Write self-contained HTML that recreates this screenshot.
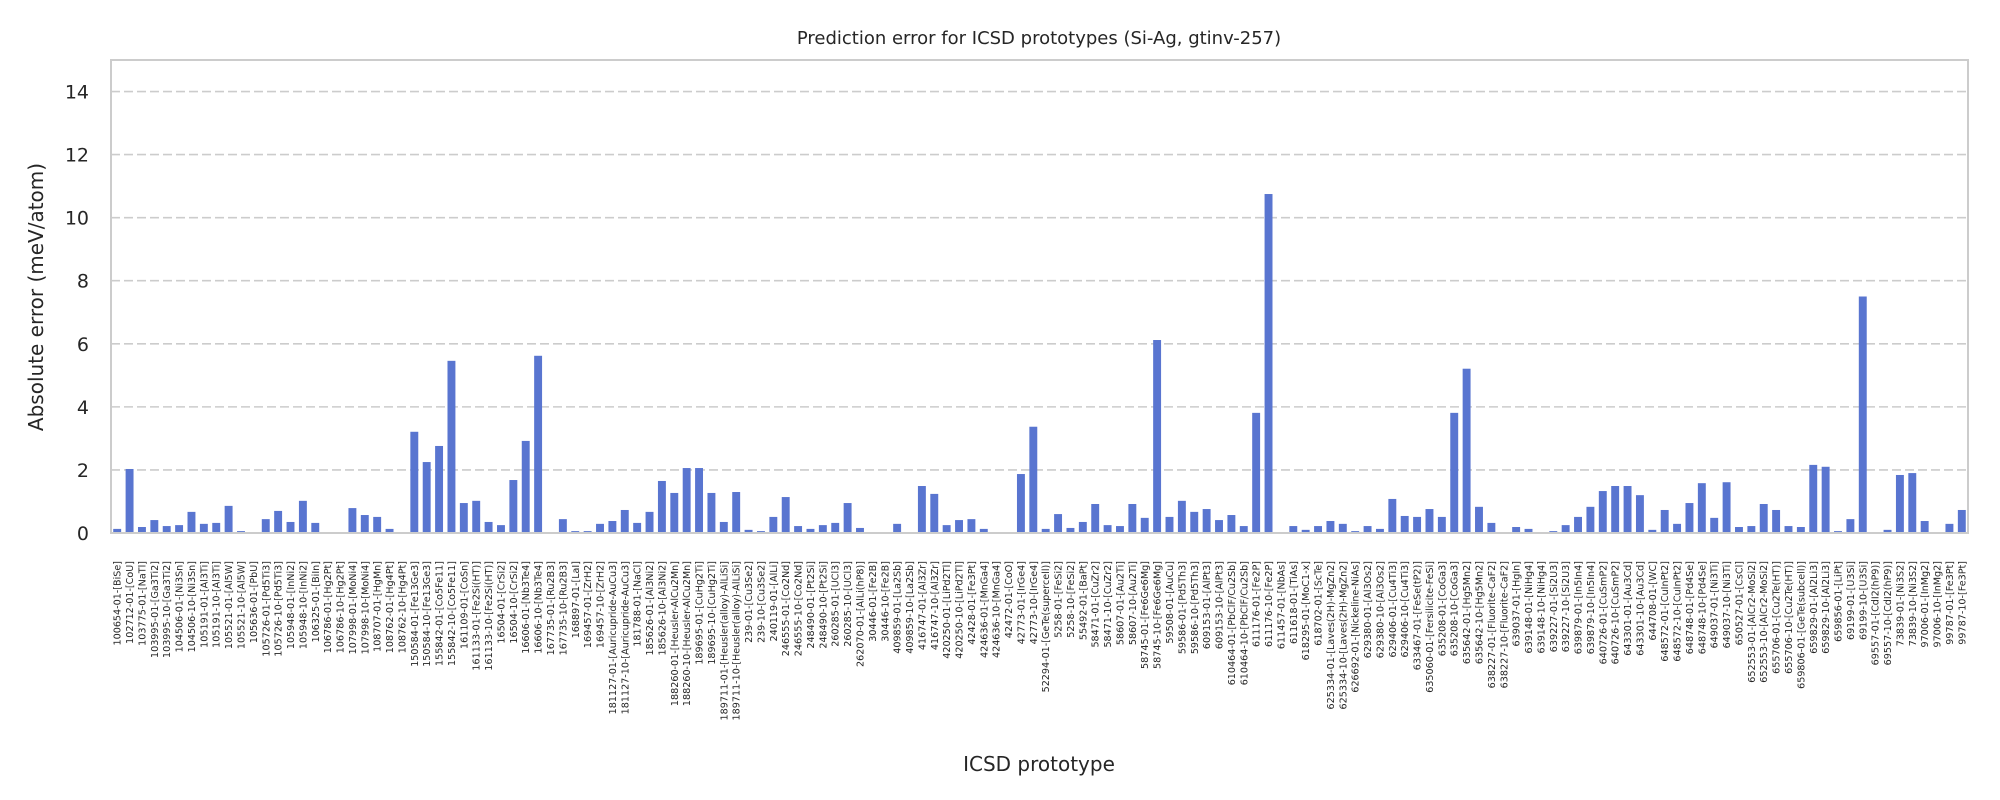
<!DOCTYPE html>
<html><head><meta charset="utf-8">
<style>
html,body{margin:0;padding:0;background:#fff;}
svg{display:block;font-family:"DejaVu Sans","Liberation Sans",sans-serif;}
</style></head>
<body>
<svg id="chart" width="2000" height="800" viewBox="0 0 2000 800">
<rect x="0" y="0" width="2000" height="800" fill="#fff"/>
<text x="1039" y="44" text-anchor="middle" font-size="18" fill="#262626">Prediction error for ICSD prototypes (Si-Ag, gtinv-257)</text>
<g id="grid"></g>
<g id="bars"></g>
<rect x="111" y="60" width="1857" height="473" fill="none" stroke="#cccccc" stroke-width="2"/>
<g id="yticks"></g>
<g id="xticks"></g>
<text transform="translate(43,297) rotate(-90)" text-anchor="middle" font-size="20" fill="#262626">Absolute error (meV/atom)</text>
<text x="1039" y="771" text-anchor="middle" font-size="20" fill="#262626">ICSD prototype</text>
</svg>
<script>
const categories = ["100654-01-[BiSe]","102712-01-[CoU]","103775-01-[NaTl]","103995-01-[Ga3Ti2]","103995-10-[Ga3Ti2]","104506-01-[Ni3Sn]","104506-10-[Ni3Sn]","105191-01-[Al3Ti]","105191-10-[Al3Ti]","105521-01-[Al5W]","105521-10-[Al5W]","105636-01-[PbU]","105726-01-[Pd5Ti3]","105726-10-[Pd5Ti3]","105948-01-[InNi2]","105948-10-[InNi2]","106325-01-[BiIn]","106786-01-[Hg2Pt]","106786-10-[Hg2Pt]","107998-01-[MoNi4]","107998-10-[MoNi4]","108707-01-[HgMn]","108762-01-[Hg4Pt]","108762-10-[Hg4Pt]","150584-01-[Fe13Ge3]","150584-10-[Fe13Ge3]","155842-01-[Co5Fe11]","155842-10-[Co5Fe11]","161109-01-[CoSn]","161133-01-[Fe2Si(HT)]","161133-10-[Fe2Si(HT)]","16504-01-[CrSi2]","16504-10-[CrSi2]","16606-01-[Nb3Te4]","16606-10-[Nb3Te4]","167735-01-[Ru2B3]","167735-10-[Ru2B3]","168897-01-[LaI]","169457-01-[ZrH2]","169457-10-[ZrH2]","181127-01-[Auricupride-AuCu3]","181127-10-[Auricupride-AuCu3]","181788-01-[NaCl]","185626-01-[Al3Ni2]","185626-10-[Al3Ni2]","188260-01-[Heusler-AlCu2Mn]","188260-10-[Heusler-AlCu2Mn]","189695-01-[CuHg2Ti]","189695-10-[CuHg2Ti]","189711-01-[Heusler(alloy)-AlLiSi]","189711-10-[Heusler(alloy)-AlLiSi]","239-01-[Cu3Se2]","239-10-[Cu3Se2]","240119-01-[AlLi]","246555-01-[Co2Nd]","246555-10-[Co2Nd]","248490-01-[Pt2Si]","248490-10-[Pt2Si]","260285-01-[UCl3]","260285-10-[UCl3]","262070-01-[AlLi(hP8)]","30446-01-[Fe2B]","30446-10-[Fe2B]","409859-01-[La2Sb]","409859-10-[La2Sb]","416747-01-[Al3Zr]","416747-10-[Al3Zr]","420250-01-[LiPd2Tl]","420250-10-[LiPd2Tl]","42428-01-[Fe3Pt]","424636-01-[MnGa4]","424636-10-[MnGa4]","42472-01-[CoO]","42773-01-[IrGe4]","42773-10-[IrGe4]","52294-01-[GeTe(supercell)]","5258-01-[FeSi2]","5258-10-[FeSi2]","55492-01-[BaPt]","58471-01-[CuZr2]","58471-10-[CuZr2]","58607-01-[Au2Ti]","58607-10-[Au2Ti]","58745-01-[Fe6Ge6Mg]","58745-10-[Fe6Ge6Mg]","59508-01-[AuCu]","59586-01-[Pd5Th3]","59586-10-[Pd5Th3]","609153-01-[AlPt3]","609153-10-[AlPt3]","610464-01-[PbClF/Cu2Sb]","610464-10-[PbClF/Cu2Sb]","611176-01-[Fe2P]","611176-10-[Fe2P]","611457-01-[NbAs]","611618-01-[TiAs]","618295-01-[MoC1-x]","618702-01-[ScTe]","625334-01-[Laves(2H)-MgZn2]","625334-10-[Laves(2H)-MgZn2]","626692-01-[Nickeline-NiAs]","629380-01-[Al3Os2]","629380-10-[Al3Os2]","629406-01-[Cu4Ti3]","629406-10-[Cu4Ti3]","633467-01-[FeSe(tP2)]","635060-01-[Fersilicite-FeSi]","635208-01-[CoGa3]","635208-10-[CoGa3]","635642-01-[Hg5Mn2]","635642-10-[Hg5Mn2]","638227-01-[Fluorite-CaF2]","638227-10-[Fluorite-CaF2]","639037-01-[HgIn]","639148-01-[NiHg4]","639148-10-[NiHg4]","639227-01-[Si2U3]","639227-10-[Si2U3]","639879-01-[In5In4]","639879-10-[In5In4]","640726-01-[CuSmP2]","640726-10-[CuSmP2]","643301-01-[Au3Cd]","643301-10-[Au3Cd]","644708-01-[WC]","648572-01-[CuInPt2]","648572-10-[CuInPt2]","648748-01-[Pd4Se]","648748-10-[Pd4Se]","649037-01-[Ni3Ti]","649037-10-[Ni3Ti]","650527-01-[CsCl]","652553-01-[AlCr2-MoSi2]","652553-10-[AlCr2-MoSi2]","655706-01-[Cu2Te(HT)]","655706-10-[Cu2Te(HT)]","659806-01-[GeTe(subcell)]","659829-01-[Al2Li3]","659829-10-[Al2Li3]","659856-01-[LiPt]","69199-01-[U3Si]","69199-10-[U3Si]","69557-01-[CdI2(hP9)]","69557-10-[CdI2(hP9)]","73839-01-[Ni3S2]","73839-10-[Ni3S2]","97006-01-[InMg2]","97006-10-[InMg2]","99787-01-[Fe3Pt]","99787-10-[Fe3Pt]"];
const errors = [0.13,2.03,0.19,0.41,0.22,0.25,0.67,0.29,0.32,0.86,0.06,0,0.44,0.70,0.35,1.02,0.32,0.03,0,0.79,0.57,0.51,0.13,0,3.21,2.25,2.76,5.46,0.95,1.02,0.35,0.25,1.68,2.92,5.62,0,0.44,0.06,
0.06,0.29,0.38,0.73,0.32,0.67,1.65,1.27,2.06,2.06,1.27,0.35,1.30,0.10,0.06,0.51,1.14,0.22,0.13,0.25,0.32,0.95,0.16,0.03,0.03,0.29,0,1.49,1.24,0.25,0.41,0.44,0.13,0,0,1.87,3.37,0.13,0.60,
0.16,0.35,0.92,0.25,0.22,0.92,0.48,6.12,0.51,1.02,0.67,0.76,0.41,0.57,0.22,3.81,10.75,0,0.22,0.10,0.22,0.38,0.29,0.06,0.22,0.13,1.08,0.54,0.51,0.76,0.51,3.81,5.21,0.83,0.32,0,0.19,0.13,
0,0.06,0.25,0.51,0.83,1.33,1.49,1.49,1.20,0.10,0.73,0.29,0.95,1.58,0.48,1.61,0.19,0.22,0.92,0.73,0.22,0.19,2.16,2.10,0.06,0.44,7.5,0,0.10,1.84,1.90,0.38,0,0.29,0.73];
const yTicks = [0,2,4,6,8,10,12,14];
const yMin = 0, yMax = 15;

const NS = "http://www.w3.org/2000/svg";
const X0 = 111, X1 = 1968, Y0 = 533, Y1 = 60;
const band = (X1 - X0) / categories.length;
function xScale(i){ return X0 + (i + 0.5) * band; }
function yScale(v){ return Y0 - (v - yMin) / (yMax - yMin) * (Y0 - Y1); }

const grid = document.getElementById('grid');
const yt = document.getElementById('yticks');
yTicks.forEach(t => {
  const y = yScale(t);
  const l = document.createElementNS(NS,'line');
  l.setAttribute('x1', X0); l.setAttribute('x2', X1);
  l.setAttribute('y1', y); l.setAttribute('y2', y);
  l.setAttribute('stroke', '#cccccc'); l.setAttribute('stroke-width', '1.6');
  l.setAttribute('stroke-dasharray', '9,4');
  
  
  grid.appendChild(l);
  const tx = document.createElementNS(NS,'text');
  tx.setAttribute('x', 89); tx.setAttribute('y', y + 7);
  tx.setAttribute('text-anchor', 'end'); tx.setAttribute('font-size', '19');
  tx.setAttribute('fill', '#262626');
  
  
  tx.textContent = t;
  yt.appendChild(tx);
});

const bars = document.getElementById('bars');
const xt = document.getElementById('xticks');
const bw = band * 0.64;
categories.forEach((c, i) => {
  const v = errors[i];
  const cx = xScale(i);
  const r = document.createElementNS(NS,'rect');
  r.setAttribute('x', cx - bw/2); r.setAttribute('width', bw);
  r.setAttribute('y', yScale(v)); r.setAttribute('height', Y0 - yScale(v));
  r.setAttribute('fill', '#5975d0');
  
  
  bars.appendChild(r);
  const t = document.createElementNS(NS,'text');
  t.setAttribute('transform', 'translate(' + (cx + 3.5) + ',561) rotate(-90)');
  t.setAttribute('text-anchor', 'end'); t.setAttribute('font-size', '9.6');
  t.setAttribute('fill', '#262626');
  
  
  t.textContent = c;
  xt.appendChild(t);
});
</script>
</body></html>
